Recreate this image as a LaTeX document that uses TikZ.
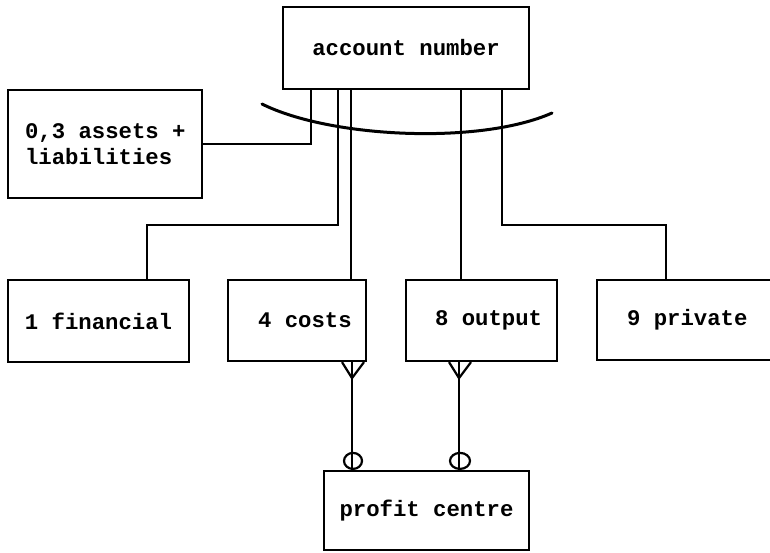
\documentclass[tikz,border=0pt]{standalone}
\usepackage{fontspec}
\setmonofont{Liberation Mono}
\newcommand\lbx[2]{\makebox[#1][l]{#2}}
\begin{document}
\begin{tikzpicture}[x=1pt,y=-1pt,
  box/.style={draw,line width=2.2pt,inner sep=0pt,align=center,
    font=\ttfamily\bfseries\fontsize{22.3}{26}\selectfont},
  conn/.style={line width=2.2pt},
  arcline/.style={line width=3pt}]
\useasboundingbox[fill=white] (0,0) rectangle (770,552);
% boxes
\node[box,minimum width=246pt,minimum height=82pt] (acct) at (406,48) {account number};
\node[box,minimum width=194pt,minimum height=108pt,align=left] (assets) at (105,144) {\lbx{160pt}{0,3 assets +}\\\lbx{160pt}{liabilities}};
\node[box,minimum width=181pt,minimum height=82pt] (fin) at (98.5,321) {1 financial};
\node[box,minimum width=138pt,minimum height=81pt] (costs) at (297,320.5) {\lbx{78pt}{4 costs}};
\node[box,minimum width=151pt,minimum height=81pt] (output) at (481.5,320.5) {\lbx{93pt}{8 output}};
\node[box,minimum width=188pt,minimum height=80pt] (priv) at (691,320) {\lbx{128pt}{9 private}};
\node[box,minimum width=205pt,minimum height=79pt] (profit) at (426.5,510.5) {profit centre};
% helper coordinates
\coordinate (a1) at (311,0);
\coordinate (a2) at (338,0);
\coordinate (a3) at (351,0);
\coordinate (a4) at (461,0);
\coordinate (a5) at (147,0);
\coordinate (a6) at (502,0);
\coordinate (a7) at (666,0);
\coordinate (h1) at (0,225);
\coordinate (b1) at (352,0);
\coordinate (b2) at (459,0);
% connectors from account number
\draw[conn] (acct.south -| a1) |- (assets.east);
\draw[conn] (acct.south -| a2) |- (h1 -| a5) -- (fin.north -| a5);
\draw[conn] (acct.south -| a3) -- (costs.north -| a3);
\draw[conn] (acct.south -| a4) -- (output.north -| a4);
\draw[conn] (acct.south -| a6) |- (h1 -| a7) -- (priv.north -| a7);
% exclusivity arc
\coordinate (arcA) at (262,104);
\coordinate (arcB) at (552,113);
\draw[arcline,line cap=round] (arcA) .. controls (330,138) and (480,145) .. (arcB);
% costs / output to profit centre
\draw[conn] (costs.south -| b1) -- (profit.north -| b1);
\draw[conn] (costs.south -| b1) ++(-10,0) -- ++(10,16) -- ++(12,-16);
\draw[conn] (profit.north -| b1) ++(1,-9) ellipse [x radius=9, y radius=8];
\draw[conn] (output.south -| b2) -- (profit.north -| b2);
\draw[conn] (output.south -| b2) ++(-10,0) -- ++(10,16) -- ++(12,-16);
\draw[conn] (profit.north -| b2) ++(1,-9) ellipse [x radius=10, y radius=8];
\end{tikzpicture}
\end{document}
